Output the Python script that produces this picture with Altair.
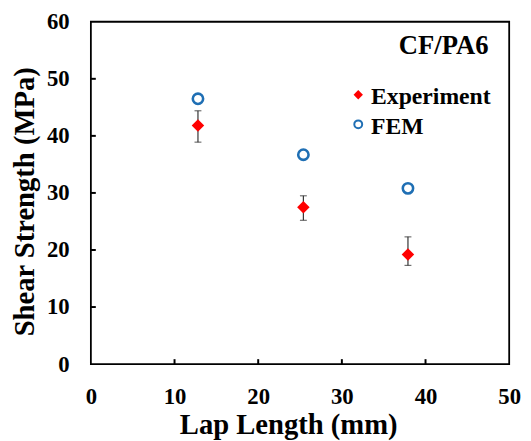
import altair as alt
import pandas as pd

# ---- data ----
lap_length = [12.8, 25.4, 37.9]
exp_strength = [41.8, 27.5, 19.2]
exp_err_low = [38.9, 25.2, 17.3]
exp_err_high = [44.4, 29.5, 22.3]
fem_strength = [46.5, 36.7, 30.8]
x_ticks = [0, 10, 20, 30, 40, 50]
y_ticks = [0, 10, 20, 30, 40, 50, 60]
series = ["Experiment", "FEM"]
panel_label = "CF/PA6"

FONT = "Liberation Serif"
W, H = 424, 347
RED = "#FF0000"
BLUE = "#1F6FB4"

df_exp = pd.DataFrame({"x": lap_length, "y": exp_strength,
                       "lo": exp_err_low, "hi": exp_err_high})
df_fem = pd.DataFrame({"x": lap_length, "y": fem_strength})
df_xt = pd.DataFrame({"x": x_ticks[1:-1]})
df_yt = pd.DataFrame({"y": y_ticks[1:-1]})

xs = alt.Scale(domain=[0, 50], nice=False, zero=False)
ys = alt.Scale(domain=[0, 60], nice=False)

xax = alt.Axis(values=x_ticks, title="Lap Length (mm)", grid=False, domain=False,
               ticks=False, tickSize=0, labelPadding=22, labelFlush=False,
               labelFont=FONT, labelFontSize=23, labelFontWeight="bold", labelColor="black",
               titleFont=FONT, titleFontSize=29, titleFontWeight="bold", titleColor="black",
               titleBaseline="alphabetic", titleY=70, titleX=W / 2 - 12)
yax = alt.Axis(values=y_ticks, title="Shear Strength (MPa)", grid=False, domain=False,
               ticks=False, tickSize=0, labelPadding=22, labelFlush=False,
               labelFont=FONT, labelFontSize=23, labelFontWeight="bold", labelColor="black",
               titleFont=FONT, titleFontSize=29, titleFontWeight="bold", titleColor="black",
               titleBaseline="alphabetic", titleX=-58, titleY=182, titleAngle=-90)

X = lambda f: alt.X(f, type="quantitative", scale=xs, axis=xax)
Y = lambda f: alt.Y(f, type="quantitative", scale=ys, axis=yax)

err = alt.Chart(df_exp).mark_rule(color="#333333", strokeWidth=1.2).encode(
    x=X("x"), y=Y("lo"), y2="hi")
cap_lo = alt.Chart(df_exp).mark_tick(orient="horizontal", size=7, thickness=1.2,
                                     color="#333333").encode(x=X("x"), y=Y("lo"))
cap_hi = alt.Chart(df_exp).mark_tick(orient="horizontal", size=7, thickness=1.2,
                                     color="#333333").encode(x=X("x"), y=Y("hi"))
exp_pts = alt.Chart(df_exp).mark_point(shape="diamond", filled=True, color=RED,
                                       size=160, opacity=1).encode(x=X("x"), y=Y("y"))
fem_pts = alt.Chart(df_fem).mark_point(shape="circle", filled=False, color=BLUE,
                                       strokeWidth=2.6, size=110, opacity=1).encode(
    x=X("x"), y=Y("y"))

xt = alt.Chart(df_xt).mark_rule(color="black", strokeWidth=2).encode(
    x=X("x"), y=alt.value(H), y2=alt.value(H - 5))
yt = alt.Chart(df_yt).mark_rule(color="black", strokeWidth=2).encode(
    y=Y("y"), x=alt.value(0), x2=alt.value(5))

leg_sym_exp = alt.Chart(pd.DataFrame({"s": [series[0]]})).mark_point(
    shape="diamond", filled=True, color=RED, size=90, opacity=1).encode(
    x=alt.value(271), y=alt.value(74))
leg_sym_fem = alt.Chart(pd.DataFrame({"s": [series[1]]})).mark_point(
    shape="circle", filled=False, color=BLUE, strokeWidth=2, size=64, opacity=1).encode(
    x=alt.value(271), y=alt.value(104))
leg_txt_exp = alt.Chart(pd.DataFrame({"s": [series[0]]})).mark_text(
    align="left", baseline="alphabetic", font=FONT, fontSize=24, fontWeight="bold",
    color="black").encode(x=alt.value(284), y=alt.value(83), text="s:N")
leg_txt_fem = alt.Chart(pd.DataFrame({"s": [series[1]]})).mark_text(
    align="left", baseline="alphabetic", font=FONT, fontSize=24, fontWeight="bold",
    color="black").encode(x=alt.value(284), y=alt.value(114), text="s:N")
label = alt.Chart(pd.DataFrame({"s": [panel_label]})).mark_text(
    align="right", baseline="alphabetic", font=FONT, fontSize=27, fontWeight="bold",
    color="black").encode(x=alt.value(403), y=alt.value(33), text="s:N")

chart = alt.layer(err, cap_lo, cap_hi, exp_pts, fem_pts, xt, yt,
                  leg_sym_exp, leg_sym_fem, leg_txt_exp, leg_txt_fem, label).properties(
    width=W, height=H,
    autosize=alt.AutoSizeParams(type="none"),
    padding={"left": 84, "top": 11, "right": 14, "bottom": 75},
    background="white",
).configure_view(stroke="black", strokeWidth=1.8)

chart.save("out.html", embed_options={"renderer": "svg", "actions": False})
